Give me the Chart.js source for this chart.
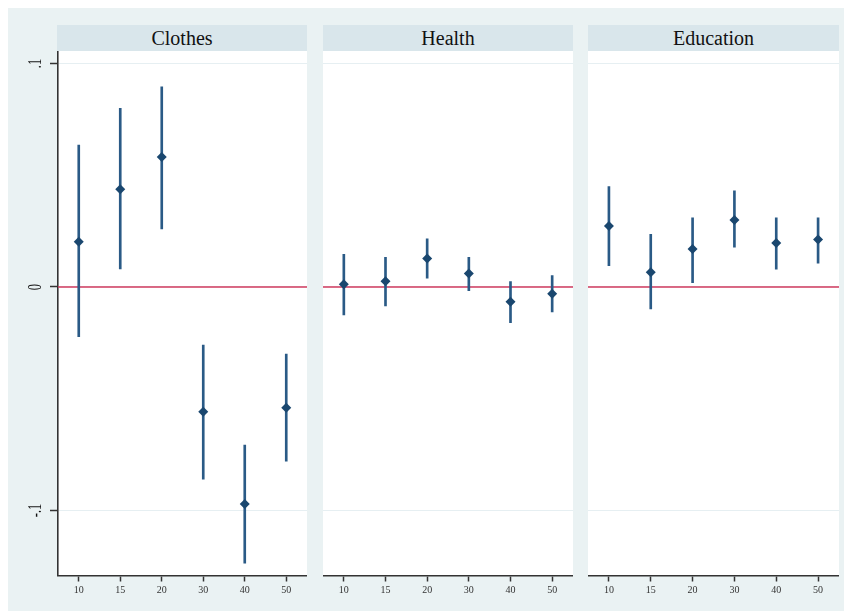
<!DOCTYPE html>
<html>
<head>
<meta charset="utf-8">
<script src="https://cdn.jsdelivr.net/npm/chart.js@4.4.1/dist/chart.umd.min.js"></script>
<style>
body { margin: 0; background: #fff; width: 844px; height: 611px; position: relative; overflow: hidden; font-family: "Liberation Serif", serif; }
#bg { position: absolute; left: 8px; top: 8px; width: 836px; height: 603px; background: #eaf2f3; }
.strip { position: absolute; top: 25px; height: 26px; background: #d9e6eb; text-align: center; font-size: 20px; line-height: 26px; color: #111; }
.panel { position: absolute; top: 51px; }
</style>
</head>
<body>
<div id="bg"></div>
<div class="strip" id="strip0" style="left:57px;width:250px"></div>
<div class="strip" id="strip1" style="left:323px;width:250px"></div>
<div class="strip" id="strip2" style="left:588px;width:251px"></div>
<canvas class="panel" id="c0" width="299" height="555" style="left:8px"></canvas>
<canvas class="panel" id="c1" width="250" height="555" style="left:323px"></canvas>
<canvas class="panel" id="c2" width="251" height="555" style="left:588px"></canvas>
<script>
'use strict';

// data
let groups = ['10', '15', '20', '30', '40', '50'];
let panelNames = ['Clothes', 'Health', 'Education'];

let clothesEst = [0.0203, 0.0437, 0.0582, -0.0558, -0.0971, -0.0540];
let clothesLo = [-0.0222, 0.0081, 0.0260, -0.0860, -0.1236, -0.0779];
let clothesHi = [0.0635, 0.0800, 0.0896, -0.0260, -0.0707, -0.0300];

let healthEst = [0.0012, 0.0026, 0.0128, 0.0060, -0.0066, -0.0030];
let healthLo = [-0.0125, -0.0085, 0.0039, -0.0017, -0.0160, -0.0112];
let healthHi = [0.0146, 0.0133, 0.0216, 0.0133, 0.0024, 0.0051];

let eduEst = [0.0273, 0.0066, 0.0170, 0.0300, 0.0197, 0.0212];
let eduLo = [0.0095, -0.0098, 0.0019, 0.0178, 0.0080, 0.0107];
let eduHi = [0.0449, 0.0236, 0.0310, 0.0430, 0.0310, 0.0310];

let yTicks = [-0.1, 0, 0.1];
let yTickLabels = ['-.1', '0', '.1'];
let yMin = -0.1291;
let yMax = 0.1056;
let refValue = 0;

let ests = [clothesEst, healthEst, eduEst];
let los = [clothesLo, healthLo, eduLo];
let his = [clothesHi, healthHi, eduHi];

let plotBg = {
    id: 'plotBg',
    beforeDraw(chart) {
        let a = chart.chartArea;
        chart.ctx.save();
        chart.ctx.fillStyle = '#ffffff';
        chart.ctx.fillRect(a.left, a.top, a.right - a.left, a.bottom - a.top);
        chart.ctx.restore();
    }
};

let refLine = {
    id: 'refLine',
    beforeDatasetsDraw(chart) {
        let a = chart.chartArea;
        let py = chart.scales.y.getPixelForValue(refValue);
        let ctx = chart.ctx;
        ctx.save();
        ctx.strokeStyle = '#d03a5e';
        ctx.lineWidth = 1.6;
        ctx.beginPath();
        ctx.moveTo(a.left, py);
        ctx.lineTo(a.right, py);
        ctx.stroke();
        ctx.restore();
    }
};

// stata style rotated labels on the y axis
let yLabels = {
    id: 'yLabels',
    afterDraw(chart, args, opts) {
        if (!opts.show) return;
        let ctx = chart.ctx;
        let y = chart.scales.y;
        ctx.save();
        ctx.fillStyle = '#111';
        ctx.font = '18px "Liberation Serif", serif';
        ctx.textAlign = 'center';
        ctx.textBaseline = 'alphabetic';
        for (let i = 0; i < yTicks.length; i++) {
            let py = y.getPixelForValue(yTicks[i]);
            ctx.save();
            ctx.translate(33, py);
            ctx.rotate(-Math.PI / 2);
            ctx.scale(0.7, 1);
            ctx.fillText(yTickLabels[i], 0, 0);
            ctx.restore();
        }
        ctx.restore();
    }
};

function makePanel(i) {
    document.getElementById('strip' + i).textContent = panelNames[i];
    let first = i === 0;
    let bars = los[i].map(function (lo, k) { return [lo, his[i][k]]; });

    new Chart(document.getElementById('c' + i), {
        data: {
            labels: groups,
            datasets: [{
                type: 'line',
                data: ests[i],
                showLine: false,
                pointStyle: 'rectRot',
                pointRadius: 5,
                pointBackgroundColor: '#1a476f',
                pointBorderWidth: 0,
                order: 0
            }, {
                type: 'bar',
                data: bars,
                backgroundColor: '#2a5a86',
                borderWidth: 0,
                barThickness: 2,
                order: 1
            }]
        },
        options: {
            responsive: false,
            animation: false,
            layout: { padding: 0, autoPadding: false },
            plugins: {
                legend: { display: false },
                tooltip: { enabled: false },
                yLabels: { show: first }
            },
            scales: {
                x: {
                    type: 'category',
                    offset: true,
                    grid: {
                        offset: false,
                        drawOnChartArea: false,
                        drawTicks: true,
                        tickLength: 6,
                        tickColor: '#333',
                        tickWidth: 1.5
                    },
                    border: { display: true, color: '#333', width: 1.6 },
                    ticks: {
                        color: '#333',
                        font: { family: '"Liberation Serif", serif', size: 10 },
                        padding: 3,
                        maxRotation: 0
                    },
                    afterFit: function (scale) { scale.height = 30.5; }
                },
                y: {
                    min: yMin,
                    max: yMax,
                    afterBuildTicks: function (scale) {
                        scale.ticks = yTicks.map(function (v) { return { value: v }; });
                    },
                    grid: {
                        color: '#e6eff2',
                        lineWidth: 1,
                        drawTicks: first,
                        tickLength: 8,
                        tickColor: '#333',
                        tickWidth: 1.5
                    },
                    border: { display: first, color: '#333', width: 1.6 },
                    ticks: { display: false },
                    afterFit: function (scale) { scale.width = first ? 50 : 0; }
                }
            }
        },
        plugins: [plotBg, refLine, yLabels]
    });
}

for (let i = 0; i < panelNames.length; i++) {
    makePanel(i);
}
</script>
</body>
</html>
